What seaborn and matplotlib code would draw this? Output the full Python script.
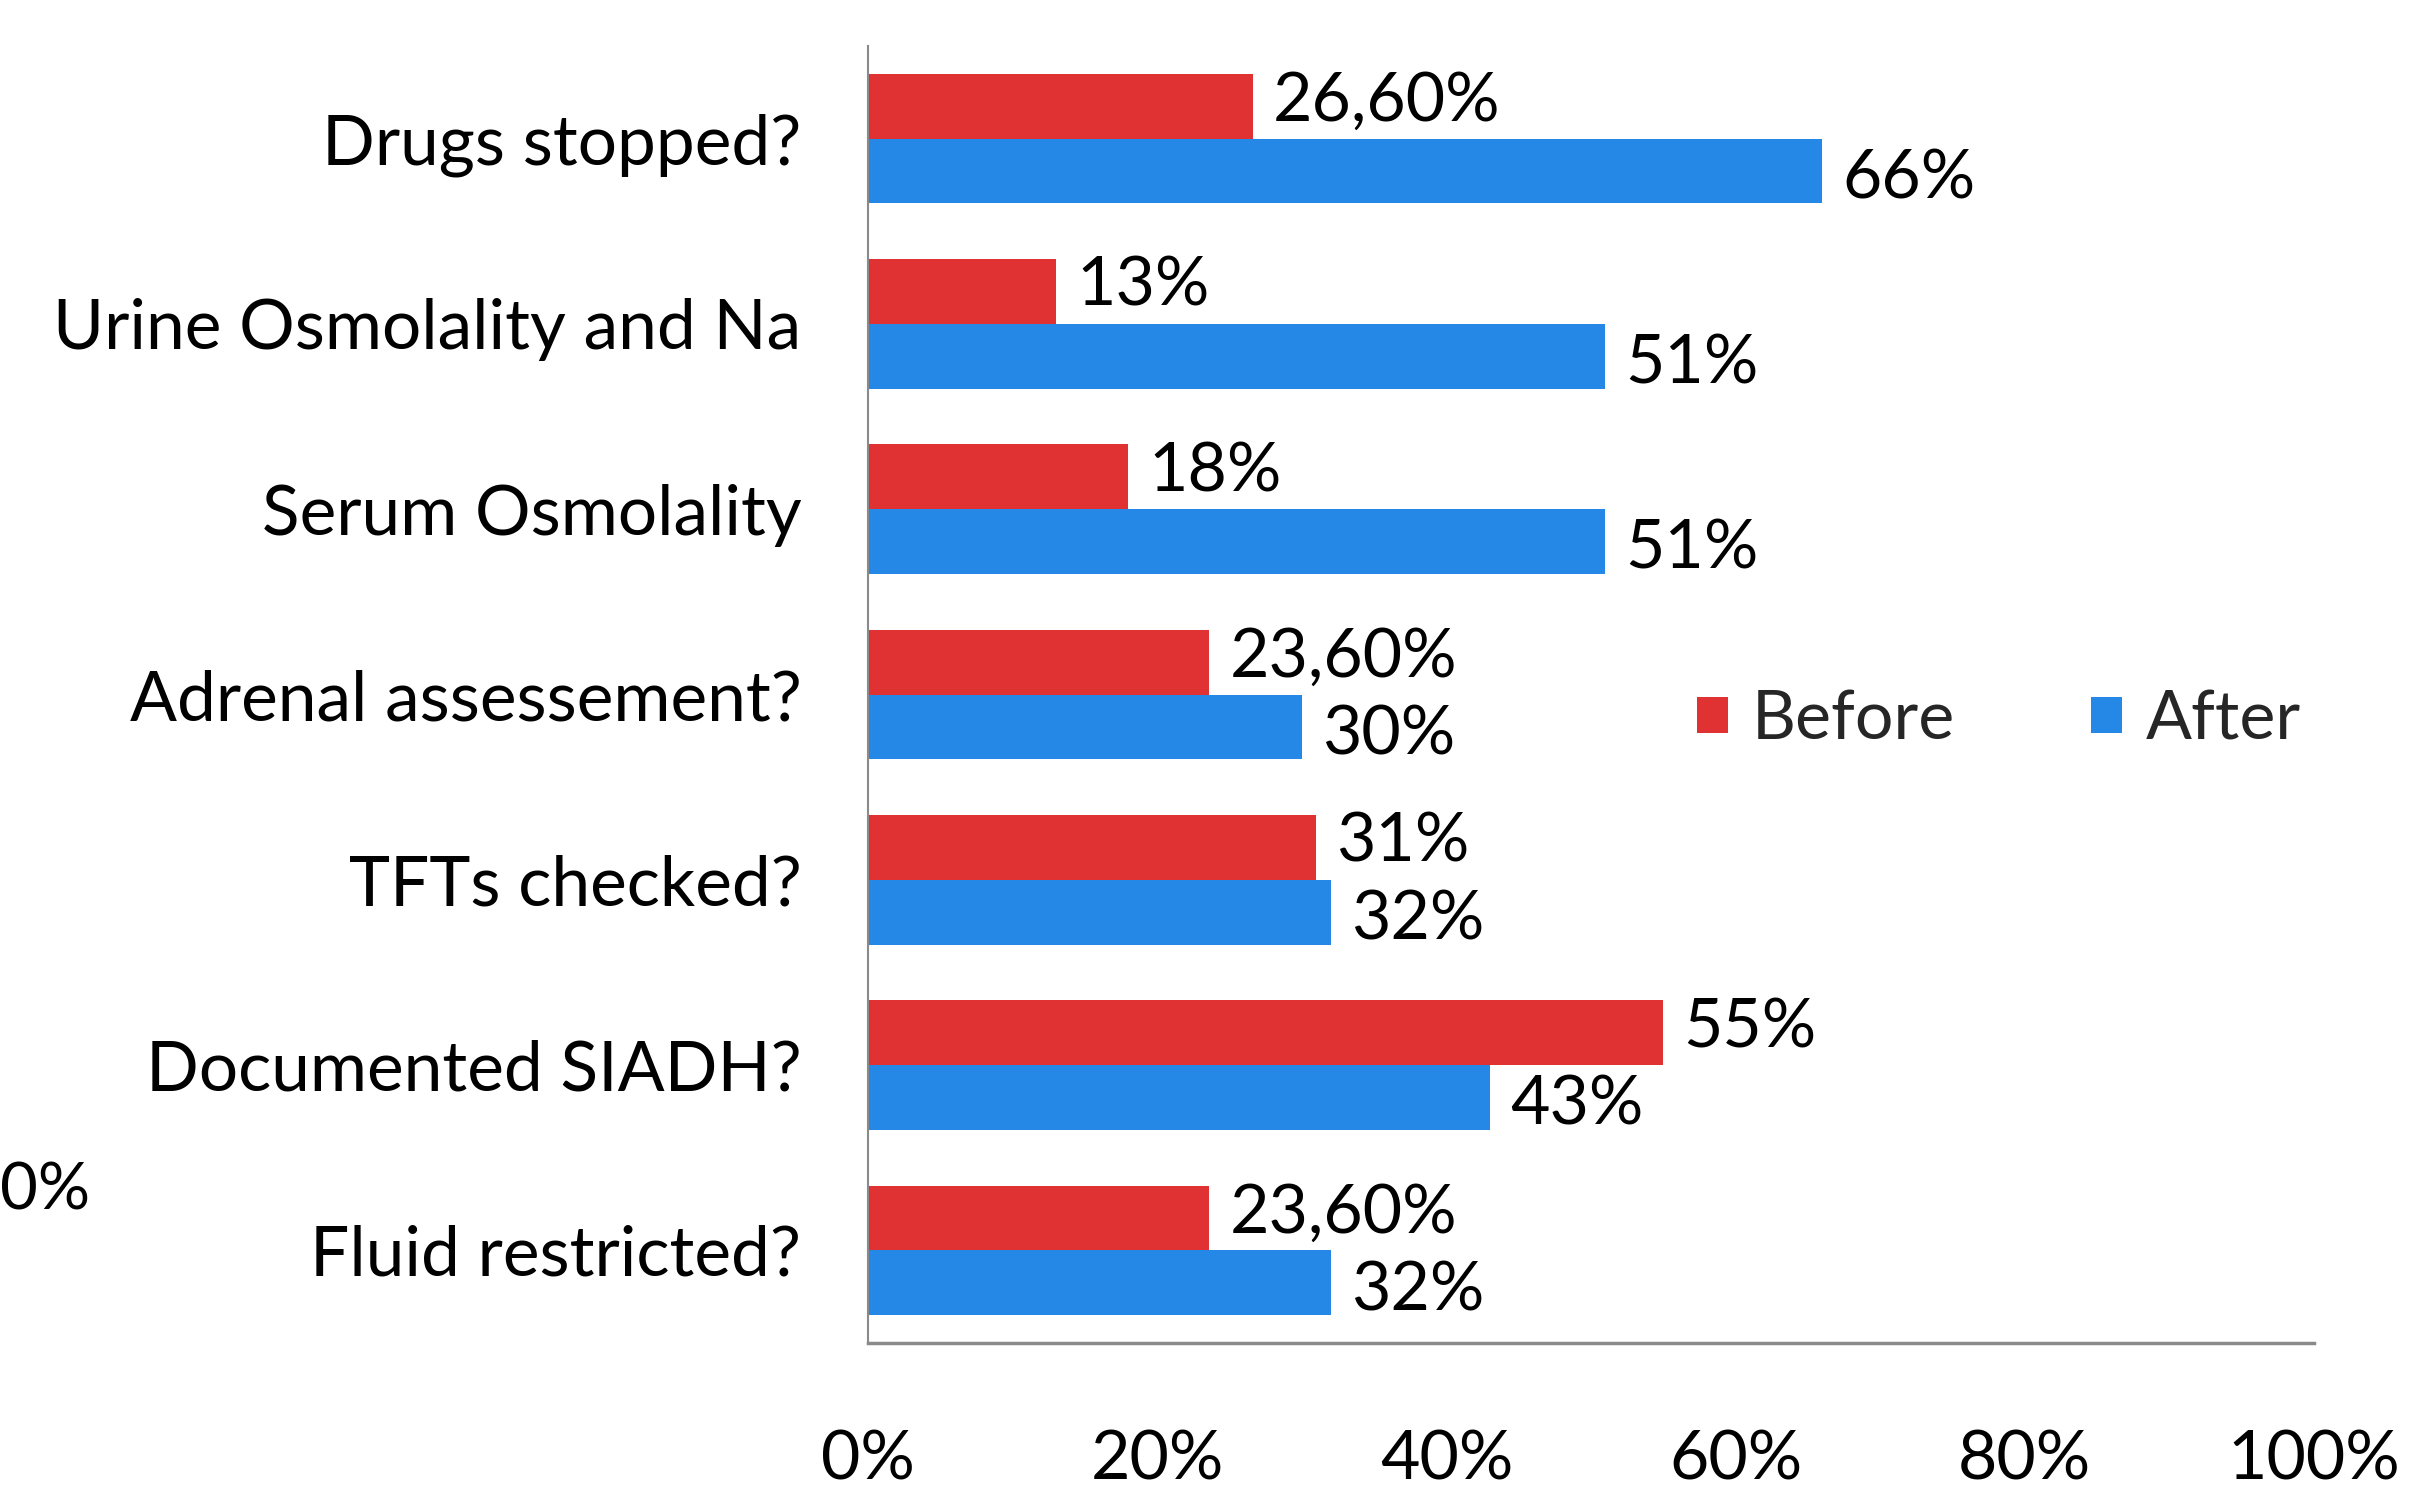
import matplotlib
matplotlib.use("Agg")
import matplotlib.pyplot as plt
import seaborn as sns
import pandas as pd

categories = ["Drugs stopped?", "Urine Osmolality and Na", "Serum Osmolality",
              "Adrenal assessement?", "TFTs checked?", "Documented SIADH?",
              "Fluid restricted?"]
before_values = [26.6, 13, 18, 23.6, 31, 55, 23.6]
after_values = [66, 51, 51, 30, 32, 43, 32]
before_labels = ["26,60%", "13%", "18%", "23,60%", "31%", "55%", "23,60%"]
after_labels = ["66%", "51%", "51%", "30%", "32%", "43%", "32%"]
series = ["Before", "After"]
x_ticks = [0, 20, 40, 60, 80, 100]
x_tick_labels = ["0%", "20%", "40%", "60%", "80%", "100%"]

df = pd.DataFrame({
    "category": categories * 2,
    "value": before_values + after_values,
    "series": [series[0]] * len(categories) + [series[1]] * len(categories),
})

sns.set_theme(style="white")
FONT = ["Lato", "DejaVu Sans"]
plt.rcParams["font.family"] = FONT

RED = "#E03133"
BLUE = "#2588E6"

fig = plt.figure(figsize=(24.32, 14.95), dpi=100)
ax = fig.add_axes([868 / 2432, 1 - 1343 / 1495, (2314 - 868) / 2432, (1343 - 46) / 1495])

sns.barplot(data=df, y="category", x="value", hue="series", order=categories,
            hue_order=series, palette=[RED, BLUE], orient="h", width=0.7,
            saturation=1, ax=ax, legend=True, edgecolor="none", linewidth=0)

ax.set_xlim(0, 100)
ax.set_ylim(len(categories) - 0.5, -0.5)
ax.set_xticks(x_ticks)
ax.set_xticklabels(x_tick_labels)
ax.set_xlabel("")
ax.set_ylabel("")
ax.tick_params(axis="x", length=0, pad=62, labelsize=49, colors="black")
ax.tick_params(axis="y", length=0, pad=48, labelsize=50, colors="black")
for s in ["top", "right"]:
    ax.spines[s].set_visible(False)
for s in ["left", "bottom"]:
    ax.spines[s].set_color("#8a8a8a")
ax.spines["left"].set_linewidth(1.5)
ax.spines["bottom"].set_linewidth(2.5)

# data labels
for i, (bv, av) in enumerate(zip(before_values, after_values)):
    ax.text(bv + 1.4, i - 0.2, before_labels[i], va="center", ha="left",
            fontsize=49, color="black")
    ax.text(av + 1.4, i + 0.22, after_labels[i], va="center", ha="left",
            fontsize=49, color="black")

leg = ax.legend(loc="center left", bbox_to_anchor=(0.55, 0.48), ncol=2,
                frameon=False, fontsize=49, handlelength=0.45, handleheight=0.45,
                handletextpad=0.35, columnspacing=2.0, borderpad=0)

# cropped fragment of a neighbouring chart at the left edge
fig.text(0.0, 1 - 1191 / 1495, "0%", ha="left", va="center", fontsize=47,
         color="black")

fig.savefig("out.png", dpi=100)
